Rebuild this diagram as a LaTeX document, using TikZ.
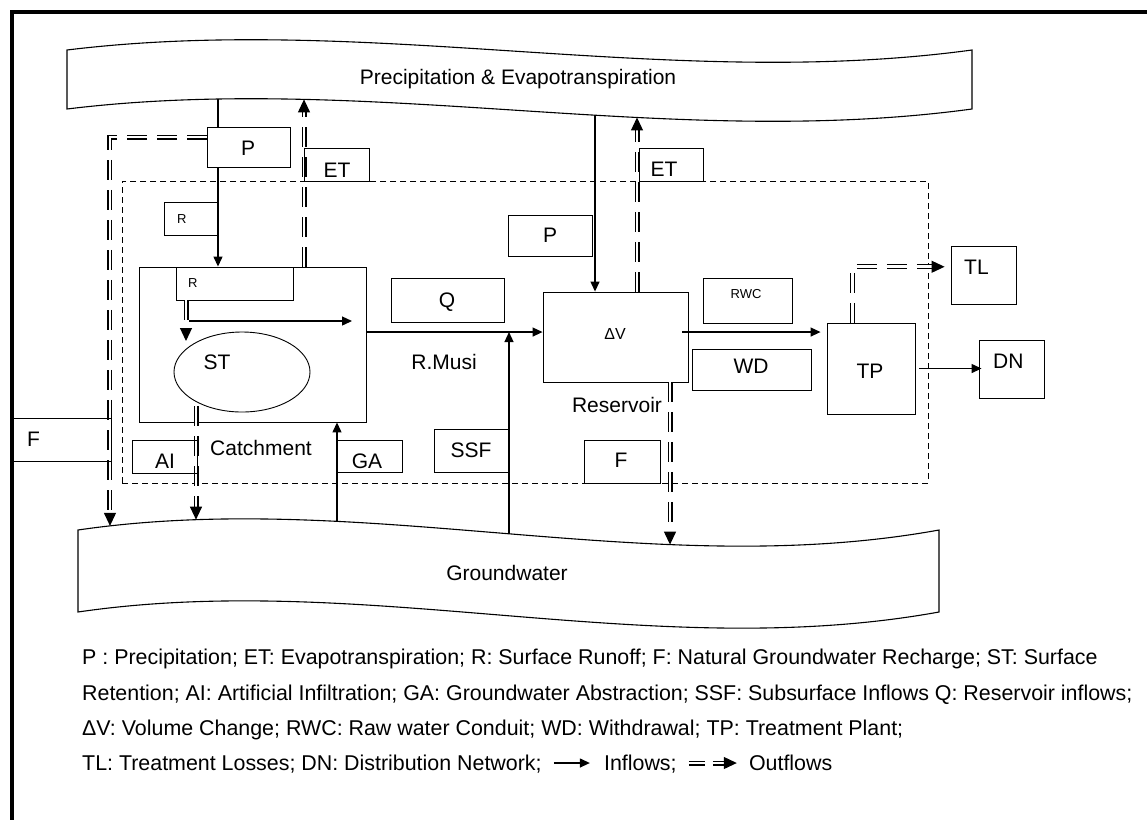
\documentclass[tikz,border=0pt]{standalone}
\usepackage{fontspec}
\setmainfont{Liberation Sans}
\usetikzlibrary{arrows.meta,calc,intersections,shapes.geometric}
\begin{document}
\begin{tikzpicture}[x=1pt,y=-1pt,
  lab/.style={font=\fontsize{21}{25}\selectfont, inner sep=0pt, anchor=base},
  leg/.style={font=\fontsize{21.4}{25}\selectfont, inner sep=0pt, anchor=base west},
  smalllab/.style={font=\fontsize{13}{15}\selectfont, inner sep=0pt, anchor=base west},
  box/.style={draw, line width=0.9pt, inner sep=0pt},
  inflow/.style={line width=1.3pt, -{Triangle[length=10pt,width=9pt]}},
  outflow/.style={double, line width=1.1pt, double distance=2.8pt, dash pattern=on 20pt off 10pt, -{Triangle[length=13pt,width=12pt]}},
  legdouble/.style={double, line width=1.1pt, double distance=2.8pt}
]
\useasboundingbox (0,0) rectangle (1147,820);
% frame
\draw[line width=3.5pt] (1147,12) -- (12,12) -- (12,820);

% bands
\draw[line width=1.1pt] (67,50) .. controls (370,13) and (670,91) .. (972,50) -- (972,109) .. controls (670,150) and (370,72) .. (67,109) -- cycle;
\path[name path=topb] (67,109) .. controls (370,72) and (670,150) .. (972,109);
\node[lab] (ptext) at (518,84) {Precipitation \& Evapotranspiration};

\draw[line width=1.1pt] (78,530) .. controls (365,488) and (652,582) .. (939,530) -- (939,612) .. controls (652,664) and (365,570) .. (78,612) -- cycle;
\path[name path=gwt] (78,530) .. controls (365,488) and (652,582) .. (939,530);
\node[lab] (gwtext) at (507,580) {Groundwater};

% intersection points
\path[name path=v1] (218,0) -- (218,300);
\path[name intersections={of=topb and v1, by=pA}];
\path[name path=v2] (304,0) -- (304,300);
\path[name intersections={of=topb and v2, by=pB}];
\path[name path=v3] (595,0) -- (595,300);
\path[name intersections={of=topb and v3, by=pC}];
\path[name path=v4] (637,0) -- (637,300);
\path[name intersections={of=topb and v4, by=pD}];
\path[name path=w1] (110,400) -- (110,700);
\path[name intersections={of=gwt and w1, by=gwA}];
\path[name path=w2] (196,400) -- (196,700);
\path[name intersections={of=gwt and w2, by=gwB}];
\path[name path=w3] (337,400) -- (337,700);
\path[name intersections={of=gwt and w3, by=gwC}];
\path[name path=w4] (509,400) -- (509,700);
\path[name intersections={of=gwt and w4, by=gwD}];
\path[name path=w5] (670,400) -- (670,700);
\path[name intersections={of=gwt and w5, by=gwE}];

% system boundary
\node[draw, line width=0.9pt, dash pattern=on 6pt off 4pt, minimum width=806pt, minimum height=302pt, inner sep=0pt] (sys) at (525,332) {};

% main boxes
\node[box, fill=white, minimum width=227pt, minimum height=155pt] (catch) at (252.5,344.5) {};
\node[box, minimum width=117pt, minimum height=33pt] (r2) at (234.5,283.5) {};
\node[box, ellipse, minimum width=136pt, minimum height=80pt] (st) at (242,372) {};
\node[box, fill=white, minimum width=145pt, minimum height=90pt] (res) at (615.5,337) {};
\node[box, fill=white, minimum width=88pt, minimum height=91pt] (tp) at (871,368.5) {};

% connectors
\draw[inflow] (pA) -- (pA |- catch.north);
\draw[outflow] (pB |- catch.north) -- (pB);
\coordinate (p1l) at (207,137);
\draw[outflow] (p1l) -| (gwA);
\coordinate (stin) at (186,341);
\draw[outflow] (stin |- r2.south) -- (stin);
\coordinate (rr1) at (189,321);
\coordinate (rr2) at (352,321);
\draw[inflow] (rr1) -- (rr2);
\draw[outflow] ($(gwB |- st.south)+(0,-6)$) -- (gwB);
\draw[inflow] (gwC) -- (gwC |- catch.south);
\coordinate (qs) at ($(catch.north east)!0.42!(catch.south east)$);
\draw[inflow] (gwD) -- (gwD |- qs);
\draw[inflow] (qs) -- (qs -| res.west);
\draw[inflow] (pC) -- (pC |- res.north);
\draw[outflow] (pD |- res.north) -- (pD);
\draw[outflow] (gwE |- res.south) -- (gwE);
\coordinate (rws) at ($(res.east |- qs)+(-6,0)$);
\draw[inflow, shorten >=6pt] (rws) -- (qs -| tp.west);

% label boxes
\node[box, fill=white, minimum width=83pt, minimum height=40pt] (p1) at (248.5,147) {};
\node[box, minimum width=65pt, minimum height=33pt] (et1) at (336.5,164.5) {};
\node[box, minimum width=54pt, minimum height=33pt] (r1) at (191,218.5) {};
\node[box, minimum width=65pt, minimum height=33pt] (ai) at (164.5,456.5) {};
\node[box, minimum width=98pt, minimum height=43pt] (f1) at (62,439.5) {};
\node[box, minimum width=65pt, minimum height=32pt] (ga) at (369.5,456) {};
\node[box, minimum width=75pt, minimum height=43pt] (ssf) at (471.5,450.5) {};
\node[box, minimum width=113pt, minimum height=44pt] (q) at (447.5,300) {};
\node[box, minimum width=84pt, minimum height=41pt] (p2) at (550,235.5) {};
\node[box, minimum width=64pt, minimum height=33pt] (et2) at (671,164.5) {};
\node[box, minimum width=76pt, minimum height=43pt] (f2) at (622,461.5) {};
\node[box, minimum width=89pt, minimum height=45pt] (rwc) at (747.5,300.5) {};
\node[box, minimum width=119pt, minimum height=41pt] (wd) at (751.5,369.5) {};
\node[box, minimum width=65pt, minimum height=58pt] (tl) at (983.5,275) {};
\node[box, minimum width=65pt, minimum height=58pt] (dn) at (1011.5,369) {};

\coordinate (tls) at ($(tp.north west)+(26,0)$);
\coordinate (tle) at ($(tl.north west)!0.36!(tl.south west)$);
\draw[outflow, shorten >=6pt] (tls) |- (tle);
\draw[inflow, shorten <=4pt, shorten >=-3pt] (tp.east) -- (tp.east -| dn.west);

% labels
\node[lab] (p1t) at (248,155) {P};
\node[lab] (et1t) at (337,177) {ET};
\node[smalllab] (r1t) at (177,223) {R};
\node[smalllab] (r2t) at (188,287) {R};
\node[lab] (stt) at (217,369) {ST};
\node[lab] (catcht) at (261,455) {Catchment};
\node[lab] (ait) at (165,468) {AI};
\node[lab, anchor=base west] (f1t) at (27,446) {F};
\node[lab] (gat) at (367,468) {GA};
\node[lab] (qt) at (447,307) {Q};
\node[lab] (musit) at (444,369) {R.Musi};
\node[lab, font=\fontsize{16}{18}\selectfont] (dvt) at (615,339) {ΔV};
\node[lab] (rest) at (617,412) {Reservoir};
\node[lab] (ssft) at (471,457) {SSF};
\node[lab] (f2t) at (621,467) {F};
\node[lab] (p2t) at (550,242) {P};
\node[lab] (et2t) at (664,176) {ET};
\node[lab, font=\fontsize{13}{15}\selectfont] (rwct) at (746,298) {RWC};
\node[lab] (wdt) at (751,373) {WD};
\node[lab] (tpt) at (870,378) {TP};
\node[lab, anchor=base west] (tlt) at (964,274) {TL};
\node[lab, anchor=base west] (dnt) at (993,368) {DN};

% legend
\node[leg] (lg1) at (82,664) {P : Precipitation; ET: Evapotranspiration; R: Surface Runoff; F: Natural Groundwater Recharge; ST: Surface};
\node[leg] (lg2) at (82,700) {Retention; AI: Artificial Infiltration; GA: Groundwater Abstraction; SSF: Subsurface Inflows Q: Reservoir inflows;};
\node[leg] (lg3) at (82,735) {ΔV: Volume Change; RWC: Raw water Conduit; WD: Withdrawal; TP: Treatment Plant;};
\node[leg] (lg4a) at (82,770) {TL: Treatment Losses; DN: Distribution Network;};
\coordinate (la1) at ($(lg4a.base east)+(12,-7)$);
\coordinate (la2) at ($(la1)+(36,0)$);
\draw[inflow] (la1) -- (la2);
\node[leg] (lg4b) at ($(la2)+(14,7)$) {Inflows;};
\coordinate (lo1) at ($(lg4b.base east)+(12,-7)$);
\coordinate (lo2) at ($(lo1)+(16,0)$);
\coordinate (lo3) at ($(lo2)+(8,0)$);
\coordinate (lo4) at ($(lo3)+(24,0)$);
\draw[legdouble] (lo1) -- (lo2);
\draw[legdouble, -{Triangle[length=13pt,width=12pt]}] (lo3) -- (lo4);
\node[leg] (lg4c) at ($(lo4)+(12,7)$) {Outflows};
\end{tikzpicture}
\end{document}
